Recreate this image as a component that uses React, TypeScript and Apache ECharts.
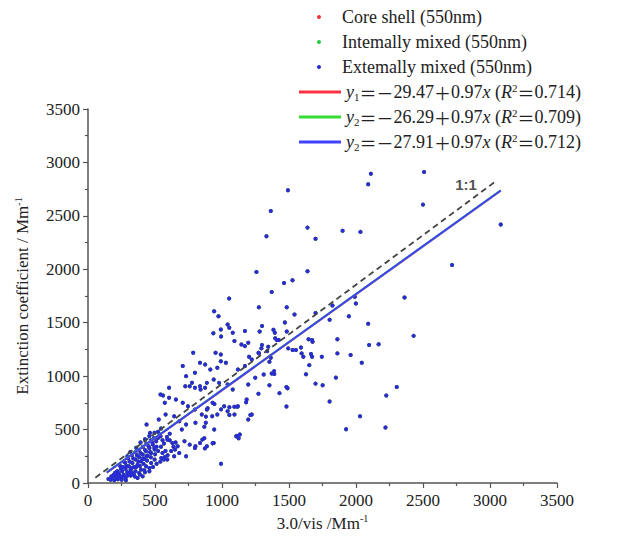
import React, { useEffect, useRef } from 'react';
import * as echarts from 'echarts';

const FONT = '"Liberation Serif", "Times New Roman", "Noto Serif CJK SC", "Noto Sans CJK SC", serif';

// scatter names (as written in the figure)
const scatterNames = ['Core shell (550nm)', 'Intemally mixed (550nm)', 'Extemally mixed (550nm)'];
const scatterColors = ['#ee3344', '#22cc44', '#2b2bd6'];

// fit-line legend pieces
const eqSubs = ['1', '2', '2'];
const eqIntercepts = ['29.47', '26.29', '27.91'];
const eqSlopes = ['0.97', '0.97', '0.97'];
const eqR2 = ['0.714', '0.709', '0.712'];
const lineColors = ['#ff3344', '#33dd33', '#4040ff'];

// fit line end points
const fitCore = [[140, 96], [3080, 2735]];
const fitInternal = [[140, 99], [3080, 2738]];
const fitExternal = [[140, 98], [3080, 2737]];
const oneToOne = [[55, 50], [3050, 2830]];
const oneToOneLabelAt = [2821, 2789];

// dense core of the cloud
const clusterPoints = [
  [153, 37], [179, 47], [204, 62], [217, 41], [242, 56], [191, 78], [229, 94], [267, 78], [255, 109], [293, 100],
  [280, 131], [318, 125], [305, 156], [343, 150], [331, 188], [370, 172], [356, 219], [395, 203], [382, 244], [420, 225],
  [408, 266], [446, 256], [433, 297], [471, 281], [458, 328], [497, 313], [484, 359], [509, 391], [522, 422], [535, 453],
  [395, 125], [433, 156], [471, 188], [497, 219], [547, 234], [573, 244], [343, 78], [382, 94], [420, 119], [458, 141],
  [318, 69], [280, 47], [370, 47], [408, 62], [169, 30], [196, 25], [223, 35], [251, 30], [283, 25], [213, 70],
  [234, 75], [262, 60], [294, 70], [327, 95], [354, 110], [311, 200], [338, 230], [365, 260], [392, 280], [425, 310],
  [452, 345], [480, 380], [327, 140], [360, 150], [387, 160], [414, 180], [441, 210], [469, 240], [501, 270], [523, 300],
  [545, 340], [567, 370], [512, 340], [491, 420], [469, 400], [436, 370], [409, 340], [382, 310], [354, 290], [327, 260],
  [300, 230], [278, 190], [262, 150], [245, 130], [376, 200], [409, 230], [436, 250], [463, 290], [496, 330], [556, 400],
  [589, 430], [610, 460], [523, 480], [545, 510], [496, 470], [458, 440], [425, 410], [392, 380], [360, 330], [289, 160],
  [316, 100], [349, 60], [387, 80], [425, 100], [458, 110], [485, 150], [512, 180], [540, 200], [567, 220], [594, 260],
  [621, 300], [638, 340], [654, 380], [610, 400], [578, 300], [556, 280], [218, 110], [240, 160], [267, 200], [294, 250],
  [316, 290], [202, 95], [174, 60],
];

// the spread part of the cloud below ~1500
const midPoints = [
  [1042, 1484], [1054, 1453], [1080, 1406], [1171, 1422], [1299, 1469], [991, 1437], [1093, 1328], [1145, 1297], [1171, 1281],
  [1196, 1312], [785, 1219], [952, 1219], [991, 1203], [836, 1125], [874, 1109], [913, 1062], [965, 1078], [991, 1140],
  [1029, 1125], [707, 1094], [732, 1000], [798, 1031], [759, 906], [798, 891], [836, 906], [874, 891], [887, 937],
  [938, 969], [978, 937], [1042, 922], [1080, 875], [1119, 1062], [1171, 1094], [1222, 1156], [1273, 1219], [1337, 1234],
  [1364, 1172], [1389, 1047], [1311, 1016], [1248, 984], [1196, 922], [605, 891], [541, 828], [605, 797], [656, 781],
  [707, 750], [746, 719], [798, 687], [849, 641], [887, 687], [927, 625], [965, 641], [1016, 719], [1042, 672], [1119, 719],
  [1093, 641], [1184, 781], [1222, 641], [579, 641], [528, 594], [643, 625], [681, 578], [732, 547], [437, 547], [463, 469],
  [541, 437], [592, 406], [630, 375], [669, 344], [720, 391], [759, 359], [798, 328], [836, 375], [887, 344], [938, 375],
  [681, 281], [732, 250], [643, 250], [592, 219], [1106, 437], [1133, 453], [1196, 594], [935, 1402], [993, 1371],
  [1092, 714], [1055, 708], [1113, 714], [943, 739], [893, 699], [993, 689], [1055, 636], [880, 621], [868, 527], [868, 418],
  [930, 371], [872, 324], [560, 819], [573, 750], [726, 906], [776, 938], [840, 875], [930, 750], [700, 500], [802, 563],
  [879, 563], [942, 500], [853, 406], [802, 344], [650, 313],
];

// scattered points away from the core
const outlierPoints = [
  [2111, 2895], [2508, 2910], [2091, 2795], [1492, 2740], [1364, 2545], [2500, 2605], [1332, 2310], [1638, 2390],
  [1698, 2285], [1900, 2360], [2033, 2350], [3080, 2420], [2717, 2040], [1257, 1975], [1638, 1982], [1463, 1872],
  [1526, 1897], [1371, 1787], [2362, 1736], [1053, 1727], [1275, 1645], [1483, 1645], [941, 1607], [974, 1560],
  [1541, 1576], [1698, 1591], [1824, 1661], [1991, 1743], [1947, 1560], [1999, 1680], [2091, 1490], [2430, 1377],
  [2169, 1298], [2098, 1292], [1861, 1345], [1803, 1528], [1672, 1339], [1646, 1345], [1494, 1260], [1594, 1213],
  [1607, 1182], [1672, 1182], [1745, 1182], [1861, 1213], [1960, 1197], [2043, 1125], [1651, 1103], [1483, 1418],
  [1384, 1434], [1397, 1355], [1424, 1339], [1345, 1276], [1298, 1292], [1281, 1418], [1294, 1260], [1202, 1182],
  [1275, 1213], [1354, 1134], [1371, 1024], [1354, 914], [1429, 841], [1481, 898], [1481, 715], [1627, 1018],
  [1698, 930], [1751, 914], [1850, 986], [1803, 763], [1926, 504], [2030, 624], [2220, 520], [2226, 819], [2304, 898],
  [1272, 835], [1180, 756], [1212, 636], [1111, 441], [1124, 419], [993, 180], [1469, 1503], [1394, 1407], [1409, 1338],
  [1527, 1244], [1552, 1244], [1589, 1269], [1676, 1322], [1664, 1207], [1390, 1020], [1489, 886],
];

const points = [...clusterPoints, ...midPoints, ...outlierPoints];

const eqNames = eqSubs.map((s, i) => `y${s}=−${eqIntercepts[i]}+${eqSlopes[i]}x (R2=${eqR2[i]})`);
const eqRich = eqSubs.map(
  (s, i) => `{i|y}{sub|${s}}{w|＝－}{n|${eqIntercepts[i]}}{w|＋}{n|${eqSlopes[i]}}{i|x}{n| (}{i|R}{sup|2}{w|＝}{n|${eqR2[i]})}`
);

export default function App() {
  const ref = useRef<HTMLDivElement>(null);
  useEffect(() => {
    const chart = echarts.init(ref.current!, null, { renderer: 'svg' });
    const axisColor = '#555';
    const textColor = '#222';
    const fitData = [fitCore, fitInternal, fitExternal];
    const nameRich = {
      t: { fontFamily: FONT, fontSize: 17, color: textColor, lineHeight: 19 },
      s: { fontFamily: FONT, fontSize: 10, color: textColor, verticalAlign: 'top', lineHeight: 12 },
    };
    const axisCommon = {
      type: 'value',
      min: 0,
      max: 3500,
      interval: 500,
      nameLocation: 'middle',
      nameTextStyle: { rich: nameRich },
      axisLine: { lineStyle: { color: axisColor, width: 1.5 } },
      axisTick: { length: 5, lineStyle: { color: axisColor, width: 1.2 } },
      minorTick: { show: true, splitNumber: 2, length: 3, lineStyle: { color: axisColor, width: 1.2 } },
      splitLine: { show: false },
    };
    const option: any = {
      animation: false,
      backgroundColor: '#fff',
      grid: { left: 88, right: 60, top: 109, bottom: 55 },
      legend: [
        {
          data: scatterNames,
          orient: 'vertical',
          left: 312,
          top: 2,
          itemWidth: 36,
          itemHeight: 4,
          itemGap: 5,
          icon: 'circle',
          textStyle: { fontFamily: FONT, fontSize: 18, color: textColor, lineHeight: 20 },
        },
        {
          data: eqNames,
          orient: 'vertical',
          left: 294,
          top: 77,
          itemWidth: 42,
          itemHeight: 3,
          itemGap: 5,
          icon: 'rect',
          formatter: (name: string) => eqRich[eqNames.indexOf(name)] || name,
          textStyle: {
            fontFamily: FONT,
            fontSize: 18,
            color: textColor,
            lineHeight: 20,
            rich: {
              n: { fontFamily: FONT, fontSize: 18, color: textColor, lineHeight: 20 },
              w: { fontFamily: '"Noto Sans CJK SC", sans-serif', fontSize: 17, color: textColor, lineHeight: 20 },
              i: { fontFamily: FONT, fontSize: 18, color: textColor, fontStyle: 'italic', lineHeight: 20 },
              sub: { fontFamily: FONT, fontSize: 11, color: textColor, verticalAlign: 'bottom', lineHeight: 12 },
              sup: { fontFamily: FONT, fontSize: 11, color: textColor, verticalAlign: 'top', lineHeight: 12 },
            },
          },
        },
      ],
      xAxis: {
        ...axisCommon,
        name: '{t|3.0/vis /Mm}{s|-1}',
        nameGap: 28,
        axisLabel: {
          fontFamily: FONT,
          fontSize: 17,
          color: textColor,
          margin: 9,
          formatter: (v: number) => String(v),
        },
      },
      yAxis: {
        ...axisCommon,
        name: '{t|Extinction coefficient / Mm}{s|-1}',
        nameGap: 56,
        axisLabel: {
          fontFamily: FONT,
          fontSize: 17,
          color: textColor,
          margin: 8,
          formatter: (v: number) => String(v),
        },
      },
      series: [
        ...scatterNames.map((name, i) => ({
          name,
          type: 'scatter',
          data: points,
          symbolSize: 4,
          itemStyle: { color: scatterColors[i], opacity: 1 },
          z: 2,
          silent: true,
        })),
        ...eqNames.map((name, i) => ({
          name,
          type: 'line',
          data: fitData[i],
          symbol: 'none',
          lineStyle: { color: lineColors[i], width: 2 },
          itemStyle: { color: lineColors[i] },
          z: 3,
          silent: true,
        })),
        {
          name: '1:1',
          type: 'line',
          data: oneToOne,
          symbol: 'none',
          lineStyle: { color: '#444', width: 1.8, type: [6, 4] },
          z: 4,
          silent: true,
          markPoint: {
            symbol: 'circle',
            symbolSize: 0,
            data: [
              {
                coord: oneToOneLabelAt,
                label: {
                  show: true,
                  position: 'inside',
                  formatter: '1:1',
                  fontFamily: '"Liberation Sans", Arial, sans-serif',
                  fontWeight: 'bold',
                  fontSize: 15,
                  color: '#555',
                },
              },
            ],
          },
        },
      ],
    };
    chart.setOption(option);
    return () => chart.dispose();
  }, []);
  return (
    <div
      ref={ref}
      style={{ position: 'fixed', left: 0, top: 0, width: 617, height: 538, background: '#fff' }}
    />
  );
}
